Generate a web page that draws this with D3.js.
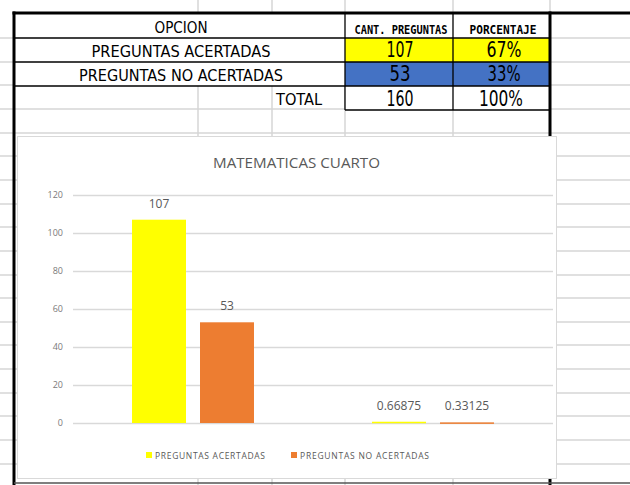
<!DOCTYPE html>
<html>
<head>
<meta charset="utf-8">
<script src="https://cdn.jsdelivr.net/npm/d3@7"></script>
<style>
  body { margin: 0; background: #fff; }
  svg { display: block; }
</style>
</head>
<body>
<div id="sheet"></div>
<script>
// table data
var tableLabels = ["PREGUNTAS ACERTADAS", "PREGUNTAS NO ACERTADAS"];
var tableCounts = [107, 53];
var tablePercents = ["67%", "33%"];
var totalCount = 160;
var totalPercent = "100%";

// chart data
var chartTitle = "MATEMATICAS CUARTO";
var series = ["PREGUNTAS ACERTADAS", "PREGUNTAS NO ACERTADAS"];
var categories = ["1", "2"];
var acertadas = [107, 0.66875];
var noAcertadas = [53, 0.33125];
var yTicks = [0, 20, 40, 60, 80, 100, 120];
var colors = ["#FFFF00", "#ED7D31"];

function init(){

  var w = 630, h = 485;
  var svg = d3.select("#sheet").append("svg")
      .attr("width", w)
      .attr("height", h);

  svg.append("rect").attr("width", w).attr("height", h).attr("fill", "#fff");

  //spreadsheet grid
  var gridCols = [198, 272, 345, 453, 550];
  var gridRows = d3.range(19).map(function(i){ return Math.round(38 + i * 23.65); });
  var grid = svg.append("g");
  grid.selectAll(".gc").data(gridCols).enter().append("line")
      .attr("x1", function(d){ return d; }).attr("x2", function(d){ return d; })
      .attr("y1", 0).attr("y2", h)
      .attr("stroke", "#d6d6d6").attr("stroke-width", 1.5);
  grid.selectAll(".gr").data(gridRows).enter().append("line")
      .attr("x1", 0).attr("x2", w)
      .attr("y1", function(d){ return d; }).attr("y2", function(d){ return d; })
      .attr("stroke", "#d6d6d6").attr("stroke-width", 1.5);

  //table
  var tLeft = 14, c1 = 345, c2 = 453, c3 = 550, tTop = 13, rowH = 24;
  var rowY = function(i){ return tTop + (i === 0 ? 0 : 25 + (i - 1) * rowH); };
  var rowB = function(i){ return rowY(i + 1); };

  //merged label cells (white)
  svg.append("rect").attr("x", tLeft).attr("y", tTop).attr("width", c1 - tLeft).attr("height", rowB(2) - tTop).attr("fill", "#fff");
  svg.append("rect").attr("x", c1).attr("y", tTop).attr("width", c3 - c1).attr("height", rowB(3) - tTop).attr("fill", "#fff");

  //coloured value cells
  var fills = ["#FFFF00", "#4472C4"];
  tableCounts.forEach(function(v, i){
    svg.append("rect").attr("x", c1).attr("y", rowY(i + 1))
        .attr("width", c3 - c1).attr("height", rowH).attr("fill", fills[i]);
  });

  //borders
  var black = svg.append("g").attr("stroke", "#000").attr("stroke-width", 1.3);
  [rowB(0), rowB(1), rowB(2)].forEach(function(y){
    black.append("line").attr("x1", tLeft).attr("x2", c3).attr("y1", y).attr("y2", y);
  });
  black.append("line").attr("x1", c1).attr("x2", c3).attr("y1", rowB(3)).attr("y2", rowB(3));
  [c1, c2].forEach(function(x){
    black.append("line").attr("x1", x).attr("x2", x).attr("y1", tTop).attr("y2", rowB(3));
  });

  //thick outline
  var thick = svg.append("g").attr("stroke", "#000").attr("stroke-width", 3);
  thick.append("line").attr("x1", 12.5).attr("x2", w).attr("y1", tTop).attr("y2", tTop);
  thick.append("line").attr("x1", tLeft).attr("x2", tLeft).attr("y1", tTop - 1.5).attr("y2", h);
  thick.append("line").attr("x1", c3).attr("x2", c3).attr("y1", tTop - 1.5).attr("y2", h);
  svg.append("line").attr("x1", tLeft).attr("x2", w).attr("y1", 483).attr("y2", 483)
      .attr("stroke", "#555").attr("stroke-width", 1.5);

  //table text
  var tfont = "'Liberation Sans Narrow', 'DejaVu Sans Condensed', sans-serif";
  function cellText(x, y, txt, size, len, anchor){
    return svg.append("text")
        .attr("x", x).attr("y", y)
        .attr("text-anchor", anchor || "middle")
        .attr("textLength", len)
        .attr("lengthAdjust", "spacingAndGlyphs")
        .style("font-family", tfont)
        .style("font-size", size + "px")
        .text(txt);
  }
  cellText(181, 33, "OPCION", 16, 53);
  cellText(181, 57, tableLabels[0], 16.5, 179);
  cellText(181, 81, tableLabels[1], 16.5, 204);
  cellText(322, 105, "TOTAL", 16.5, 46, "end");

  var hfont = "'DejaVu Sans Mono', monospace";
  svg.append("text").attr("x", 401).attr("y", 34).attr("text-anchor", "middle")
      .attr("textLength", 93).attr("lengthAdjust", "spacingAndGlyphs")
      .style("font-family", hfont).style("font-weight", "bold").style("font-size", "11.5px")
      .text("CANT. PREGUNTAS");
  svg.append("text").attr("x", 503).attr("y", 34).attr("text-anchor", "middle")
      .attr("textLength", 67).attr("lengthAdjust", "spacingAndGlyphs")
      .style("font-family", hfont).style("font-weight", "bold").style("font-size", "11.5px")
      .text("PORCENTAJE");

  var countW = [27, 21], pctW = [35, 33];
  tableCounts.forEach(function(v, i){
    cellText(400, rowB(i + 1) - 5, String(v), 22, countW[i]);
    cellText(504, rowB(i + 1) - 5, tablePercents[i], 22, pctW[i]);
  });
  cellText(400, rowB(3) - 4, String(totalCount), 22, 27);
  cellText(501, rowB(3) - 4, totalPercent, 22, 44);

  //chart panel
  var panel = {x: 17, y: 136, w: 539, h: 342};
  svg.append("rect")
      .attr("x", panel.x + 0.5).attr("y", panel.y + 0.5)
      .attr("width", panel.w).attr("height", panel.h)
      .attr("fill", "#fff").attr("stroke", "#d9d9d9").attr("stroke-width", 1);

  var cfont = "'Open Sans', 'Noto Sans', sans-serif";
  var plot = {left: 73, right: 553, top: 195, bottom: 423};

  var yScale = d3.scaleLinear().domain([0, 120]).range([plot.bottom, plot.top]);
  var x0 = d3.scaleBand().domain(categories).range([plot.left, plot.right]);
  var x1 = d3.scaleBand().domain(series).range([0, x0.bandwidth()])
      .paddingInner(0.206).paddingOuter(0.868);

  var yAxis = d3.axisLeft(yScale)
      .tickValues(yTicks)
      .tickSize(-(plot.right - plot.left))
      .tickPadding(10);

  var ag = svg.append("g")
      .attr("transform", "translate(" + plot.left + ",0)")
      .call(yAxis);
  ag.select(".domain").remove();
  ag.selectAll(".tick line").attr("stroke", "#d9d9d9").attr("stroke-width", 1.3);
  ag.selectAll(".tick text")
      .style("font-family", cfont).style("font-size", "9px").attr("fill", "#7a7a7a");

  svg.append("text")
      .attr("x", (panel.x + panel.x + panel.w) / 2 + 10).attr("y", 168)
      .attr("text-anchor", "middle")
      .attr("textLength", 167).attr("lengthAdjust", "spacingAndGlyphs")
      .style("font-family", cfont).style("font-size", "14.5px").attr("fill", "#595959")
      .text(chartTitle);

  var seriesData = [acertadas, noAcertadas];
  var rows = categories.map(function(c, ci){
    return series.map(function(s, si){ return {cat: c, s: s, si: si, v: seriesData[si][ci]}; });
  });

  var groups = svg.selectAll(".grp").data(rows).enter().append("g")
      .attr("transform", function(d){ return "translate(" + x0(d[0].cat) + ",0)"; });

  groups.selectAll("rect").data(function(d){ return d; }).enter().append("rect")
      .attr("x", function(d){ return x1(d.s); })
      .attr("y", function(d){ return yScale(d.v); })
      .attr("width", x1.bandwidth())
      .attr("height", function(d){ return Math.max(1.5, yScale(0) - yScale(d.v)); })
      .attr("fill", function(d){ return colors[d.si]; });

  groups.selectAll(".lbl").data(function(d){ return d; }).enter().append("text")
      .attr("x", function(d){ return x1(d.s) + x1.bandwidth() / 2; })
      .attr("y", function(d){ return yScale(d.v) - 12; })
      .attr("text-anchor", "middle")
      .style("font-family", cfont).style("font-size", "12px").attr("fill", "#595959")
      .text(function(d){ return d.v; });

  //legend
  var legX = [146, 291];
  var legLen = [110, 129];
  var lg = svg.selectAll(".leg").data(series).enter().append("g")
      .attr("transform", function(d, i){ return "translate(" + legX[i] + ",452)"; });
  lg.append("rect").attr("width", 6).attr("height", 6)
      .attr("fill", function(d, i){ return colors[i]; });
  lg.append("text").attr("x", 9).attr("y", 7)
      .attr("textLength", function(d, i){ return legLen[i]; })
      .attr("lengthAdjust", "spacing")
      .style("font-family", cfont).style("font-size", "8.5px").attr("fill", "#595959")
      .text(function(d){ return d; });
}

window.onload = init;
</script>
</body>
</html>
